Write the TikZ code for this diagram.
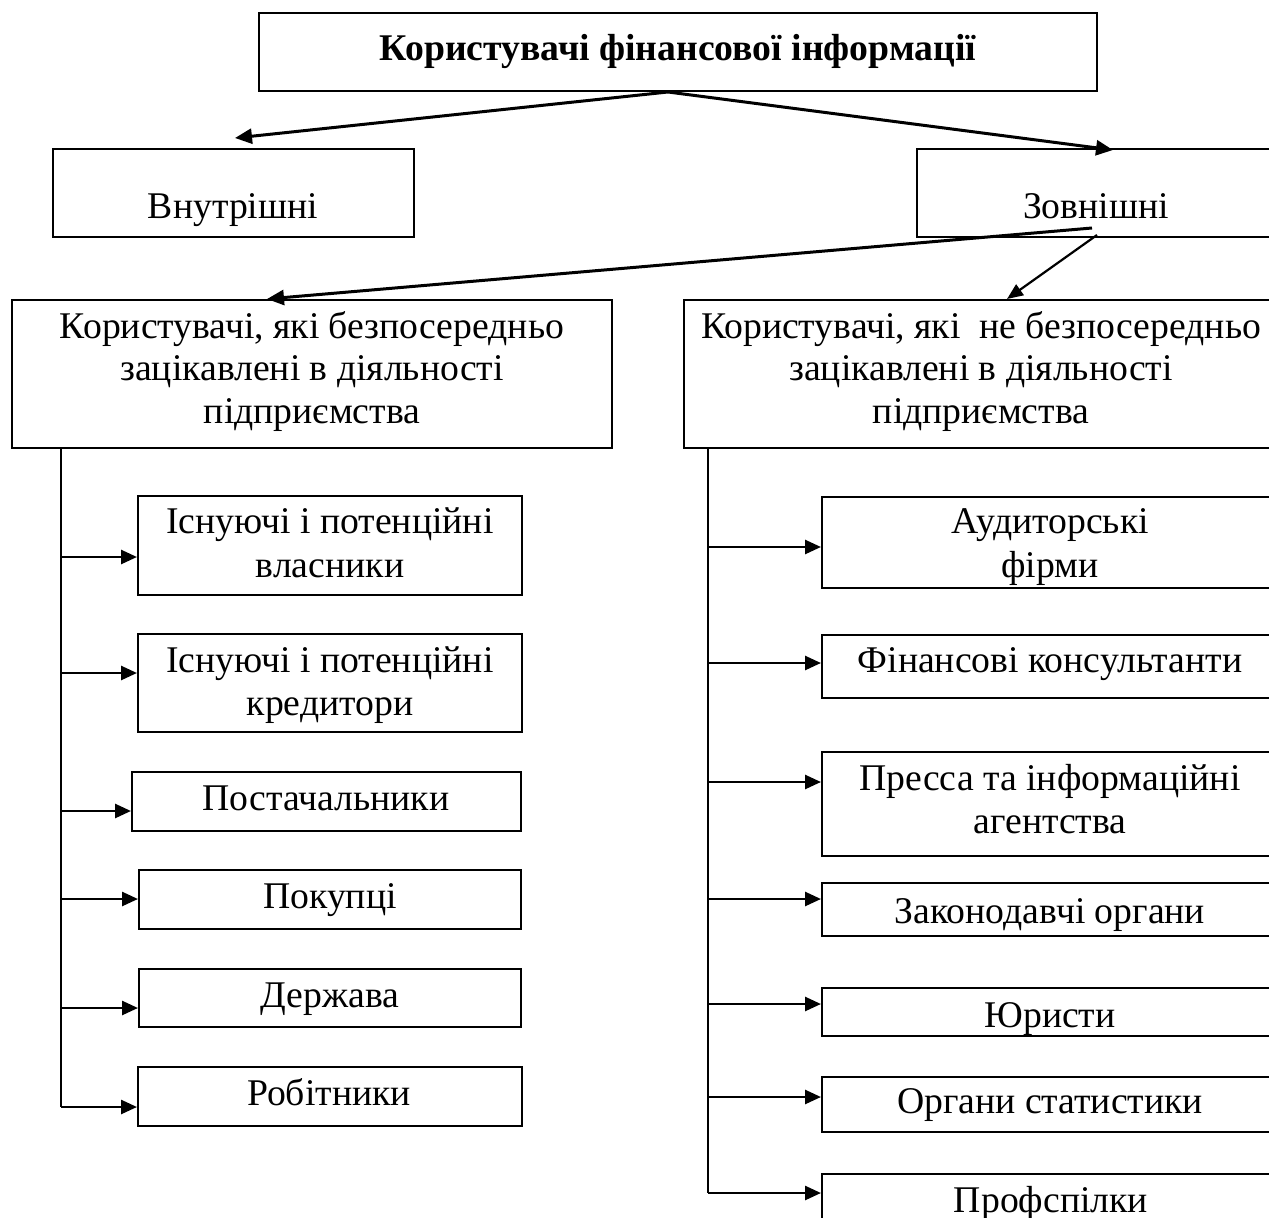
\documentclass[tikz,border=0pt]{standalone}
\usepackage{fontspec}
\setmainfont{Liberation Serif}
\usetikzlibrary{arrows.meta}
\tikzset{
  box/.style={draw, line width=2pt, inner sep=0pt},
  txt/.style={inner sep=0pt, anchor=base, font=\fontsize{37.7}{43}\selectfont},
  btxt/.style={txt, font=\fontsize{37.7}{43}\selectfont\bfseries},
  arr/.style={line width=2.6pt, -{Triangle[length=16pt,width=14pt]}},
  diag/.style={line width=3pt, -{Triangle[length=17pt,width=15pt]}},
  thin/.style={line width=2.2pt, -{Triangle[length=16pt,width=13pt]}},
  tree/.style={line width=1.9pt}
}
\newcommand{\mybox}[5]{\node[box, minimum width={#4-#2}, minimum height={#5-#3}] (#1) at ({(#2+#4)/2},{(#3+#5)/2}) {};}
\begin{document}
\begin{tikzpicture}[x=1pt,y=-1pt]
\useasboundingbox (0,0) rectangle (1269,1218);
\clip (0,0) rectangle (1269,1218);
\fill[white] (0,0) rectangle (1269,1218);
% boxes
\mybox{top}{259}{13}{1097}{91}
\mybox{vn}{53}{149}{414}{237}
\mybox{zv}{917}{149}{1300}{237}
\mybox{lbig}{12}{300}{612}{448}
\mybox{rbig}{684}{300}{1300}{448}
\mybox{l1}{138}{496}{522}{595}
\mybox{l2}{138}{634}{522}{732}
\mybox{l3}{132}{772}{521}{831}
\mybox{l4}{139}{870}{521}{929}
\mybox{l5}{139}{969}{521}{1027}
\mybox{l6}{138}{1067}{522}{1126}
\mybox{r1}{822}{497}{1300}{588}
\mybox{r2}{822}{635}{1300}{698}
\mybox{r3}{822}{752}{1300}{856}
\mybox{r4}{822}{883}{1300}{936}
\mybox{r5}{822}{988}{1300}{1036}
\mybox{r6}{822}{1077}{1300}{1132}
\mybox{r7}{822}{1174}{1300}{1260}
% texts
\node[btxt] (top-t) at (678,60) {Користувачі фінансової інформації};
\node[txt] (vn-t) at (233,218) {Внутрішні};
\node[txt] (zv-t) at (1096,218) {Зовнішні};
\node[txt] (lbig-t1) at (312,338) {Користувачі, які безпосередньо};
\node[txt] (lbig-t2) at (312,380) {зацікавлені в діяльності};
\node[txt] (lbig-t3) at (312,423) {підприємства};
\node[txt] (rbig-t1) at (981,338) {Користувачі, які\ \ не безпосередньо};
\node[txt] (rbig-t2) at (981,380) {зацікавлені в діяльності};
\node[txt] (rbig-t3) at (981,423) {підприємства};
\node[txt] (l1-t1) at (330,533) {Існуючі і потенційні};
\node[txt] (l1-t2) at (330,577) {власники};
\node[txt] (l2-t1) at (330,672) {Існуючі і потенційні};
\node[txt] (l2-t2) at (330,715) {кредитори};
\node[txt] (l3-t) at (326,810) {Постачальники};
\node[txt] (l4-t) at (330,908) {Покупці};
\node[txt] (l5-t) at (330,1007) {Держава};
\node[txt] (l6-t) at (329,1105) {Робітники};
\node[txt] (r1-t1) at (1050,533) {Аудиторські};
\node[txt] (r1-t2) at (1050,577) {фірми};
\node[txt] (r2-t) at (1050,672) {Фінансові консультанти};
\node[txt] (r3-t1) at (1050,790) {Пресса та інформаційні};
\node[txt] (r3-t2) at (1050,833) {агентства};
\node[txt] (r4-t) at (1050,923) {Законодавчі органи};
\node[txt] (r5-t) at (1050,1027) {Юристи};
\node[txt] (r6-t) at (1050,1113) {Органи статистики};
\node[txt] (r7-t) at (1051,1212) {Профспілки};
% top connectors
\coordinate (ts) at (668,92);
\coordinate (vtip) at (235,138);
\coordinate (ztip) at (1113,150);
\draw[diag] (ts) -- (vtip);
\draw[diag] (ts) -- (ztip);
\coordinate (zs1) at (1092,228);
\coordinate (zs2) at (1097,235);
\coordinate (ltip) at (267,299);
\coordinate (rtip) at (1007,299);
\draw[diag] (zs1) -- (ltip);
\draw[thin] (zs2) -- (rtip);
% left tree
\coordinate (lv0) at (61,448);
\coordinate (lvend) at (61,1107);
\draw[tree] (lv0) -- (lvend);
\foreach \b/\y in {l1/557,l2/673,l3/811,l4/899,l5/1008,l6/1107}{
  \coordinate (\b-in) at (61,\y);
  \draw[arr] (\b-in) -- (\b.west |- \b-in);
}
% right tree
\coordinate (rv0) at (708,448);
\coordinate (rvend) at (708,1193);
\draw[tree] (rv0) -- (rvend);
\foreach \b/\y in {r1/547,r2/663,r3/782,r4/899,r5/1004,r6/1097,r7/1193}{
  \coordinate (\b-in) at (708,\y);
  \draw[arr] (\b-in) -- (\b.west |- \b-in);
}
\end{tikzpicture}
\end{document}
